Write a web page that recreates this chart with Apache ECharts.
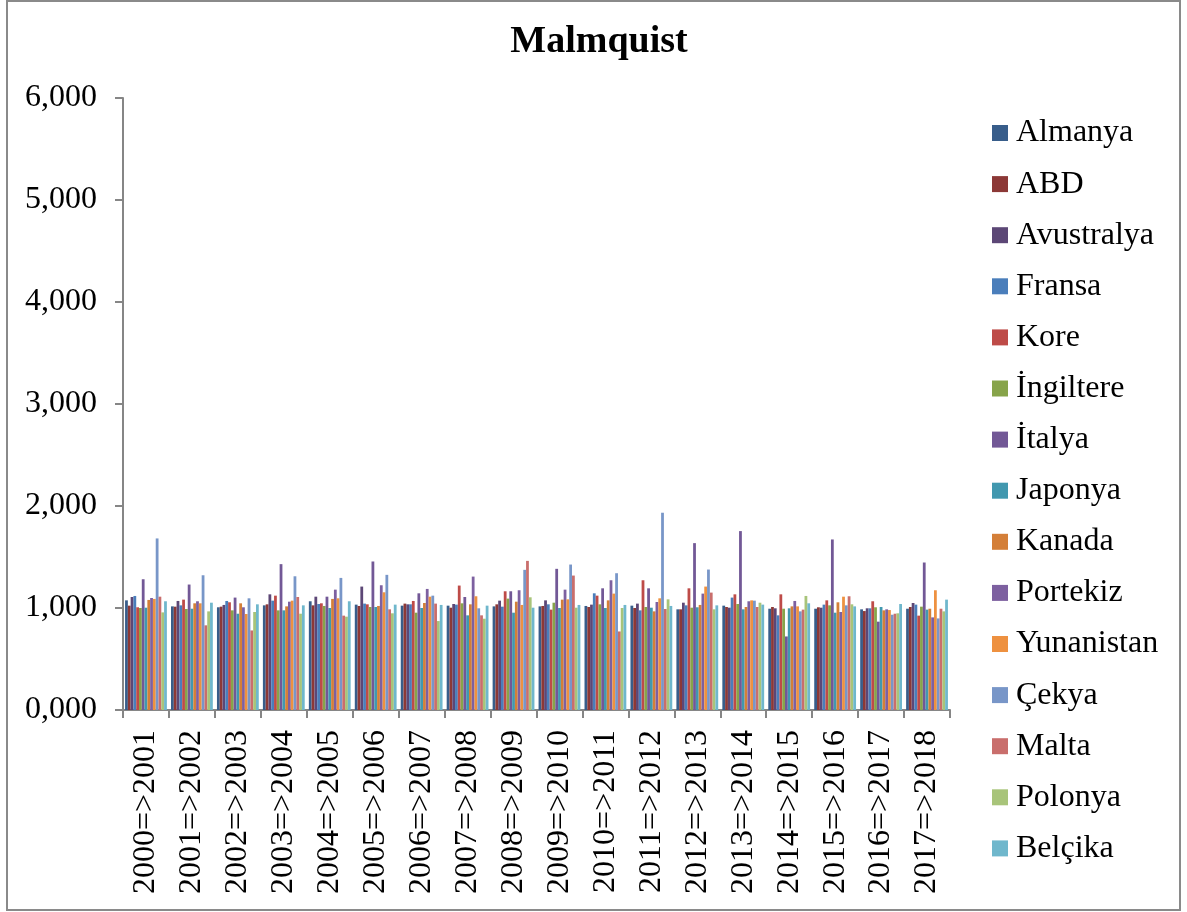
<!DOCTYPE html>
<html>
<head>
<meta charset="utf-8">
<script src="https://cdn.jsdelivr.net/npm/echarts@6/dist/echarts.min.js"></script>
<style>
html,body{margin:0;padding:0;background:#fff;}
#chart{width:1187px;height:912px;}
</style>
</head>
<body>
<div id="chart"></div>
<script>
const categories = ["2000=>2001","2001=>2002","2002=>2003","2003=>2004","2004=>2005","2005=>2006","2006=>2007","2007=>2008","2008=>2009","2009=>2010","2010=>2011","2011=>2012","2012=>2013","2013=>2014","2014=>2015","2015=>2016","2016=>2017","2017=>2018"];
const seriesNames = ["Almanya","ABD","Avustralya","Fransa","Kore","İngiltere","İtalya","Japonya","Kanada","Portekiz","Yunanistan","Çekya","Malta","Polonya","Belçika"];
const seriesColors = ["#385D8A","#8C3836","#5C4776","#4A7EBB","#BE4B48","#87A44A","#725896","#4198AF","#D47F38","#7D60A0","#EE9140","#7896C8","#C96E6C","#A8C47A","#6FB7CC"];

// rows: category, columns: series in order of seriesNames
const g2001 = [1.075,1.023,1.108,1.118,1.007,1.000,1.282,1.003,1.079,1.098,1.089,1.682,1.111,0.957,1.066];
const g2002 = [1.016,1.013,1.069,1.026,1.082,0.990,1.230,0.993,1.046,1.066,1.046,1.321,0.830,0.967,1.052];
const g2003 = [1.007,1.013,1.030,1.069,1.056,0.977,1.102,0.944,1.046,1.007,0.941,1.095,0.780,0.961,1.036];
const g2004 = [1.026,1.036,1.134,1.072,1.121,0.977,1.430,0.977,1.016,1.062,1.072,1.311,1.108,0.944,1.026];
const g2005 = [1.066,1.026,1.111,1.039,1.046,1.020,1.111,1.000,1.089,1.180,1.095,1.295,0.925,0.915,1.066];
const g2006 = [1.033,1.020,1.210,1.043,1.036,1.010,1.456,1.010,1.020,1.223,1.154,1.325,0.987,0.948,1.033];
const g2007 = [1.023,1.043,1.036,1.036,1.069,0.954,1.144,1.000,1.049,1.187,1.111,1.121,1.043,0.872,1.030];
const g2008 = [1.023,1.003,1.039,1.033,1.220,1.046,1.108,0.928,1.036,1.308,1.115,0.997,0.928,0.895,1.023];
const g2009 = [1.016,1.036,1.072,1.013,1.164,1.092,1.164,0.954,1.062,1.174,1.030,1.374,1.462,1.105,1.003];
const g2010 = [1.016,1.020,1.075,1.036,0.984,1.052,1.384,1.000,1.082,1.180,1.085,1.426,1.318,1.003,1.030];
const g2011 = [1.020,1.010,1.033,1.144,1.121,1.036,1.193,1.000,1.075,1.272,1.141,1.341,0.770,1.000,1.030];
const g2012 = [1.023,1.000,1.043,0.977,1.272,1.010,1.193,1.003,0.967,1.059,1.095,1.934,0.990,1.085,1.020];
const g2013 = [0.987,0.987,1.052,1.026,1.193,1.003,1.636,1.007,1.030,1.141,1.210,1.377,1.151,0.987,1.026];
const g2014 = [1.023,1.010,1.003,1.102,1.134,1.039,1.754,0.987,1.010,1.066,1.075,1.072,1.010,1.052,1.033];
const g2015 = [0.993,1.010,0.997,0.928,1.134,0.993,0.721,0.997,1.016,1.069,1.016,0.967,0.984,1.118,1.046];
const g2016 = [0.993,1.007,1.003,1.033,1.075,1.026,1.672,0.954,1.056,0.961,1.111,1.026,1.115,1.036,1.016];
const g2017 = [0.987,0.970,0.997,0.997,1.066,1.007,0.866,1.010,0.977,0.987,0.980,0.934,0.944,0.948,1.039];
const g2018 = [0.993,1.010,1.049,1.033,0.925,1.013,1.446,0.984,0.993,0.908,1.174,0.898,0.993,0.967,1.082];

const groups = [g2001,g2002,g2003,g2004,g2005,g2006,g2007,g2008,g2009,g2010,g2011,g2012,g2013,g2014,g2015,g2016,g2017,g2018];

const font = '"Liberation Serif", "Times New Roman", serif';
const axisColor = '#868686';

const series = seriesNames.map((name, i) => ({
  name: name,
  type: 'bar',
  data: groups.map(g => g[i]),
  itemStyle: { color: seriesColors[i] },
  barGap: '0%',
  barCategoryGap: '9%'
}));

const chart = echarts.init(document.getElementById('chart'), null, {renderer: 'canvas'});
chart.setOption({
  animation: false,
  backgroundColor: '#fff',
  title: {
    text: 'Malmquist',
    left: 594,
    textAlign: 'center',
    top: 18,
    textStyle: { fontFamily: font, fontSize: 38, fontWeight: 'bold', color: '#000' }
  },
  graphic: [{
    type: 'rect',
    shape: { x: 7, y: 1, width: 1173, height: 909 },
    style: { fill: 'none', stroke: '#8a8a8a', lineWidth: 2 },
    silent: true
  }],
  legend: {
    orient: 'vertical',
    left: 992,
    top: 117,
    padding: 0,
    itemWidth: 16,
    itemHeight: 16,
    itemGap: 19.1,
    icon: 'rect',
    textStyle: { fontFamily: font, fontSize: 32, color: '#000', lineHeight: 32, padding: [0,0,0,3] },
    data: seriesNames
  },
  grid: { left: 123, right: 237, top: 98, bottom: 202, containLabel: false },
  xAxis: {
    type: 'category',
    data: categories,
    axisLine: { lineStyle: { color: axisColor, width: 2 } },
    axisTick: { show: true, alignWithLabel: false, length: 8, lineStyle: { color: axisColor, width: 2 } },
    axisLabel: { rotate: 90, fontFamily: font, fontSize: 32, color: '#000', margin: 20, interval: 0 },
    splitLine: { show: false }
  },
  yAxis: {
    type: 'value',
    min: 0, max: 6, interval: 1,
    axisLine: { show: true, lineStyle: { color: axisColor, width: 2 } },
    axisTick: { show: true, length: 8, lineStyle: { color: axisColor, width: 2 } },
    axisLabel: {
      fontFamily: font, fontSize: 32, color: '#000', margin: 26,
      formatter: v => v.toFixed(3).replace('.', ',')
    },
    splitLine: { show: false }
  },
  series: series
});
</script>
</body>
</html>
